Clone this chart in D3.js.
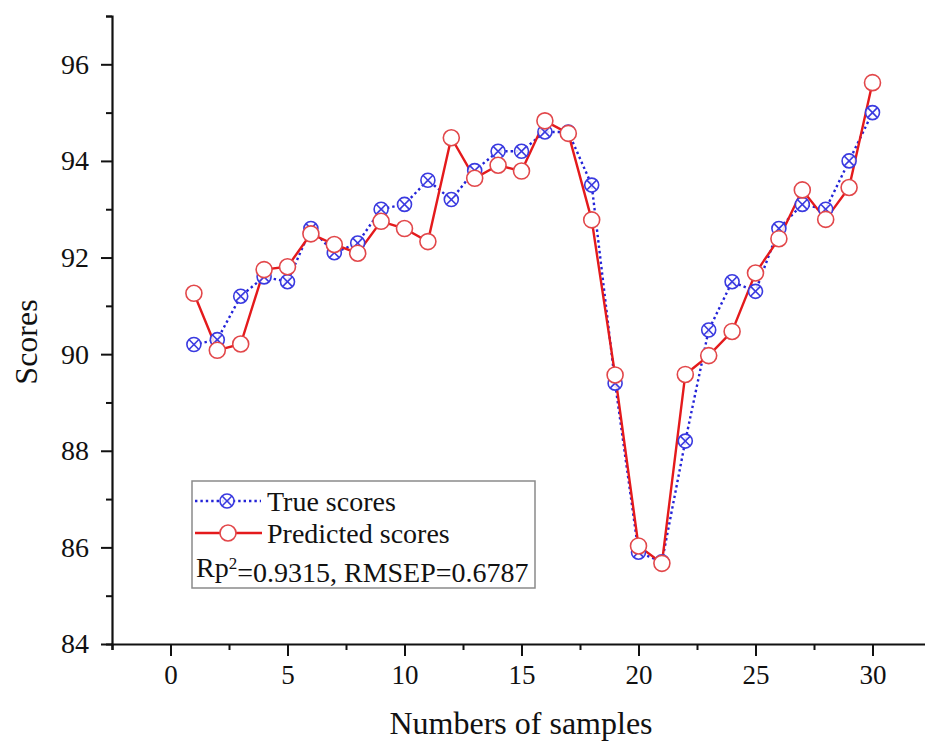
<!DOCTYPE html>
<html>
<head>
<meta charset="utf-8">
<script src="https://cdn.jsdelivr.net/npm/d3@7"></script>
<style>
  html, body { margin: 0; padding: 0; background: #fff; }
  svg text { font-family: "Liberation Serif", "Times New Roman", serif; fill: #111; }
</style>
</head>
<body>
<svg id="chart" width="925" height="747"></svg>
<script>
// Sample numbers
const samples = d3.range(1, 31);
// Measured (true) scores
const trueScores = [
  90.2, 90.3, 91.2, 91.6, 91.5, 92.6, 92.1, 92.3, 93.0, 93.1,
  93.6, 93.2, 93.8, 94.2, 94.2, 94.6, 94.6, 93.5, 89.4, 85.9,
  85.7, 88.2, 90.5, 91.5, 91.3, 92.6, 93.1, 93.0, 94.0, 95.0
];
// Model-predicted scores
const predictedScores = [
  91.26, 90.08, 90.21, 91.75, 91.81, 92.49, 92.27, 92.09, 92.75, 92.60,
  92.33, 94.48, 93.64, 93.91, 93.79, 94.83, 94.57, 92.78, 89.57, 86.03,
  85.67, 89.58, 89.97, 90.47, 91.68, 92.39, 93.40, 92.79, 93.45, 95.62
];
const xMajorTicks = [0, 5, 10, 15, 20, 25, 30];
const yMajorTicks = [84, 86, 88, 90, 92, 94, 96];
const legendLabels = ["True scores", "Predicted scores"];
const statsText = { rp2: "0.9315", rmsep: "0.6787" };

const blue = "#2323d8";
const blueMarker = "#3a3ae0";
const red = "#e41a1c";
const redMarker = "#e2474a";

const svg = d3.select("#chart");

const x = d3.scaleLinear().domain([-2.5, 32.5]).range([112, 931]);
const y = d3.scaleLinear().domain([84, 97]).range([644, 16]);

// ---- axes ----
const xAxis = svg.append("g").attr("transform", `translate(0,${y(84)})`);
xAxis.call(d3.axisBottom(x).tickValues(xMajorTicks).tickSize(12).tickPadding(9).tickFormat(d3.format("d")));
xAxis.append("g").call(d3.axisBottom(x).tickValues(d3.range(-2.5, 33, 5)).tickSize(6).tickFormat(""));

const yAxis = svg.append("g").attr("transform", `translate(${x(-2.5)},0)`);
yAxis.call(d3.axisLeft(y).tickValues(yMajorTicks).tickSize(11).tickPadding(12).tickFormat(d3.format("d")));
yAxis.append("g").call(d3.axisLeft(y).tickValues(d3.range(85, 98, 2)).tickSize(6).tickFormat(""));

svg.selectAll(".domain").attr("stroke", "#111").attr("stroke-width", 2.2);
svg.selectAll(".tick line").attr("stroke", "#111").attr("stroke-width", 2);
xAxis.selectAll(".tick text").style("font-size", "27px").attr("fill", "#111");
yAxis.selectAll(".tick text").style("font-size", "28px").attr("fill", "#111");
// the minor-tick groups repeat the axis line; hide theirs
xAxis.select("g .domain").remove();
yAxis.select("g .domain").remove();

svg.append("text")
  .attr("x", 521).attr("y", 734)
  .attr("text-anchor", "middle")
  .style("font-size", "32px")
  .text("Numbers of samples");

svg.append("text")
  .attr("transform", `translate(37,342) rotate(-90)`)
  .attr("text-anchor", "middle")
  .style("font-size", "32px")
  .text("Scores");

// ---- series ----
const line = d3.line().x(d => x(d[0])).y(d => y(d[1]));
const trueData = samples.map((s, i) => [s, trueScores[i]]);
const predData = samples.map((s, i) => [s, predictedScores[i]]);

const plot = svg.append("g");

plot.append("path")
  .datum(trueData)
  .attr("d", line)
  .attr("fill", "none")
  .attr("stroke", blue)
  .attr("stroke-width", 2.4)
  .attr("stroke-dasharray", "2.4,3");

plot.append("path")
  .datum(predData)
  .attr("d", line)
  .attr("fill", "none")
  .attr("stroke", red)
  .attr("stroke-width", 2.4);

function crossedCircle(g, r) {
  g.append("circle").attr("r", r).attr("fill", "#fff").attr("fill-opacity", 0.85)
    .attr("stroke", blueMarker).attr("stroke-width", 1.6);
  const k = r * Math.SQRT1_2;
  g.append("line").attr("x1", -k).attr("y1", -k).attr("x2", k).attr("y2", k)
    .attr("stroke", blueMarker).attr("stroke-width", 1.6);
  g.append("line").attr("x1", -k).attr("y1", k).attr("x2", k).attr("y2", -k)
    .attr("stroke", blueMarker).attr("stroke-width", 1.6);
}

plot.selectAll("g.true-pt")
  .data(trueData)
  .join("g")
  .attr("class", "true-pt")
  .attr("transform", d => `translate(${x(d[0])},${y(d[1])})`)
  .each(function () { crossedCircle(d3.select(this), 7); });

plot.selectAll("circle.pred-pt")
  .data(predData)
  .join("circle")
  .attr("class", "pred-pt")
  .attr("cx", d => x(d[0]))
  .attr("cy", d => y(d[1]))
  .attr("r", 8)
  .attr("fill", "#fff")
  .attr("stroke", redMarker)
  .attr("stroke-width", 1.6);

// ---- legend ----
const legend = svg.append("g").attr("transform", "translate(192,481)");
const box = legend.append("rect")
  .attr("x", 0).attr("y", 0).attr("height", 107)
  .attr("fill", "#fff").attr("stroke", "#8a8a8a").attr("stroke-width", 1.5);

const rowY = [20, 52, 86];
legend.append("line").attr("x1", 3).attr("x2", 69).attr("y1", rowY[0]).attr("y2", rowY[0])
  .attr("stroke", blue).attr("stroke-width", 2.4).attr("stroke-dasharray", "2.4,3");
crossedCircle(legend.append("g").attr("transform", `translate(35,${rowY[0]})`), 7);
legend.append("line").attr("x1", 3).attr("x2", 70).attr("y1", rowY[1]).attr("y2", rowY[1])
  .attr("stroke", red).attr("stroke-width", 2.4);
legend.append("circle").attr("cx", 36).attr("cy", rowY[1]).attr("r", 8)
  .attr("fill", "#fff").attr("stroke", redMarker).attr("stroke-width", 1.6);

legendLabels.forEach((t, i) => {
  legend.append("text").attr("x", 75).attr("y", rowY[i]).attr("dy", "0.35em")
    .style("font-size", "28px").text(t);
});
const stats = legend.append("text").attr("x", 4).attr("y", rowY[2]).attr("dy", "0.35em")
  .style("font-size", "28px");
stats.append("tspan").text("Rp");
stats.append("tspan").attr("dy", "-0.45em").style("font-size", "17px").text("2");
stats.append("tspan").attr("dy", "0.45em").text(`=${statsText.rp2}, RMSEP=${statsText.rmsep}`);

const w = stats.node().getBBox().width;
box.attr("width", Math.ceil(w) + 10);
</script>
</body>
</html>
